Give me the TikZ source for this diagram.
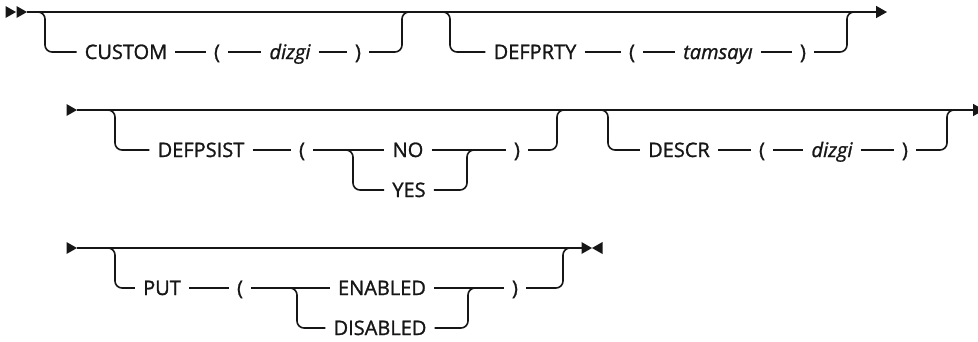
\documentclass[tikz,border=0pt]{standalone}
\usepackage{fontspec}
\setmainfont{Open Sans}[FakeBold=1.2]
\usepackage{tikz}
\usetikzlibrary{arrows.meta, calc}
\definecolor{trait}{HTML}{161616}
\newcommand{\railfont}{\fontsize{20pt}{24pt}\selectfont}
\newcommand{\pointedroite}[1]{\fill[trait] (#1) -- ++(-10.5,-6) -- ++(0,12) -- cycle;}
\newcommand{\pointegauche}[1]{\fill[trait] (#1) -- ++(10.5,-6) -- ++(0,12) -- cycle;}
\tikzset{
  rail/.style={line width=1.6pt, color=trait, rounded corners=7pt},
  fin/.style={-{Triangle[length=11pt, width=12pt]}},
  mot/.style={font=\railfont, text=trait, text height=14pt, text depth=0pt,
    inner xsep=8pt, inner ysep=2pt},
  var/.style={mot, font=\railfont\itshape}
}

\begin{document}
\begin{tikzpicture}[x=1pt, y=-1pt]
    \useasboundingbox (0,0) rectangle (978,341);

    % ligne 1
    \coordinate (r1s) at (27,12);
    \coordinate (r1e) at (887,12);
    \pointedroite{16,12}
    \pointedroite{27,12}
    \draw[rail, fin] (r1s) -- (r1e);

    \node[mot] (custom) at (126,52) {CUSTOM};
    \node[mot] (pa1) at (217,52) {(};
    \node[var] (dizgi1) at (290,52) {dizgi};
    \node[mot] (pf1) at (358,52) {)};
    \coordinate (d1) at (37,12);
    \coordinate (u1) at (402,12);
    \draw[rail] (d1) -- ++(8,0) |- (custom);
    \draw[rail] (custom) -- (pa1) -- (dizgi1) -- (pf1);
    \draw[rail] (pf1) -| (u1) -- ++(8,0);

    \node[mot] (defprty) at (535,52) {DEFPRTY};
    \node[mot] (pa2) at (632,52) {(};
    \node[var] (tamsayi) at (718,52) {tamsayı};
    \node[mot] (pf2) at (803,52) {)};
    \coordinate (d2) at (442,12);
    \coordinate (u2) at (847,12);
    \draw[rail] (d2) -- ++(8,0) |- (defprty);
    \draw[rail] (defprty) -- (pa2) -- (tamsayi) -- (pf2);
    \draw[rail] (pf2) -| (u2) -- ++(8,0);

    % ligne 2
    \coordinate (r2s) at (77,110);
    \coordinate (r2e) at (984,110);
    \pointedroite{77,110}
    \draw[rail, fin] (r2s) -- (r2e);

    \node[mot] (defpsist) at (201,150) {DEFPSIST};
    \node[mot] (pa3) at (302,150) {(};
    \node[mot] (no) at (408,150) {NO};
    \node[mot] (yes) at (409,190) {YES};
    \node[mot] (pf3) at (517,150) {)};
    \coordinate (d3) at (107,110);
    \coordinate (u3) at (557,110);
    \coordinate (f1) at (345,150);
    \coordinate (j1) at (467,150);
    \draw[rail] (d3) -- ++(8,0) |- (defpsist);
    \draw[rail] (defpsist) -- (pa3) -- (no) -- (pf3);
    \draw[rail] (f1) -- ++(8,0) |- (yes);
    \draw[rail] (yes) -| (j1) -- ++(8,0);
    \draw[rail] (pf3) -| (u3) -- ++(8,0);

    \node[mot] (descr) at (679,150) {DESCR};
    \node[mot] (pa4) at (762,150) {(};
    \node[var] (dizgi2) at (832,150) {dizgi};
    \node[mot] (pf4) at (905,150) {)};
    \coordinate (d4) at (600,110);
    \coordinate (u4) at (947,110);
    \draw[rail] (d4) -- ++(8,0) |- (descr);
    \draw[rail] (descr) -- (pa4) -- (dizgi2) -- (pf4);
    \draw[rail] (pf4) -| (u4) -- ++(8,0);

    % ligne 3
    \coordinate (r3s) at (77,248);
    \coordinate (r3e) at (583,248);
    \pointedroite{77,248}
    \draw[rail] (r3s) -- (r3e);
    \pointedroite{592,248}
    \pointegauche{592,248}

    \node[mot] (put) at (162,288) {PUT};
    \node[mot] (pa5) at (240,288) {(};
    \node[mot] (enabled) at (382,288) {ENABLED};
    \node[mot] (disabled) at (380,328) {DISABLED};
    \node[mot] (pf5) at (515,288) {)};
    \coordinate (d5) at (107,248);
    \coordinate (u5) at (563,248);
    \coordinate (f2) at (289,288);
    \coordinate (j2) at (468,288);
    \draw[rail] (d5) -- ++(8,0) |- (put);
    \draw[rail] (put) -- (pa5) -- (enabled) -- (pf5);
    \draw[rail] (f2) -- ++(8,0) |- (disabled);
    \draw[rail] (disabled) -| (j2) -- ++(8,0);
    \draw[rail] (pf5) -| (u5) -- ++(8,0);
  \end{tikzpicture}
\end{document}
